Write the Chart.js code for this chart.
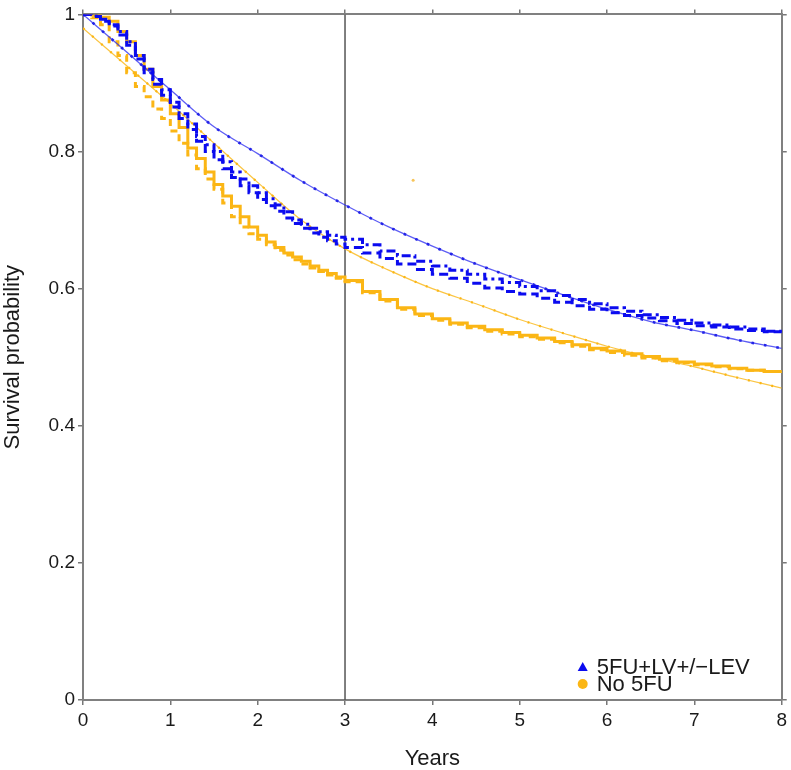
<!DOCTYPE html>
<html>
<head>
<meta charset="utf-8">
<title>Survival probability</title>
<script src="https://cdn.jsdelivr.net/npm/chart.js@4.4.1/dist/chart.umd.min.js"></script>
<style>
  html, body { margin: 0; padding: 0; background: #fff; }
  #wrap { width: 791px; height: 770px; }
</style>
</head>
<body>
<div id="wrap"><canvas id="survChart" width="791" height="770"></canvas></div>
<script>
// Kaplan-Meier style curves (years vs survival probability)
var kmYears = [0, 0.1, 0.2, 0.3, 0.4, 0.5, 0.6, 0.7, 0.8, 0.9, 1.0, 1.1, 1.2, 1.3, 1.4, 1.5,
  1.6, 1.7, 1.8, 1.9, 2.0, 2.1, 2.2, 2.3, 2.4, 2.5, 2.6, 2.7, 2.8, 2.9, 3.0,
  3.2, 3.4, 3.6, 3.8, 4.0, 4.2, 4.4, 4.6, 4.8, 5.0, 5.2, 5.4, 5.6, 5.8, 6.0,
  6.2, 6.4, 6.6, 6.8, 7.0, 7.2, 7.4, 7.6, 7.8, 8.0];

var blueDashDot = [1.0, 0.998, 0.993, 0.985, 0.975, 0.96, 0.94, 0.92, 0.905, 0.89, 0.872,
  0.855, 0.84, 0.822, 0.81, 0.80, 0.785, 0.77, 0.76, 0.75, 0.74, 0.731, 0.722, 0.712, 0.70,
  0.694, 0.688, 0.683, 0.678, 0.675, 0.672,
  0.664, 0.655, 0.648, 0.64, 0.633, 0.627, 0.621, 0.614, 0.609, 0.603, 0.597, 0.59, 0.584,
  0.578, 0.572, 0.567, 0.562, 0.558, 0.554, 0.55, 0.547, 0.544, 0.541, 0.538, 0.536];
var blueDashed = [1.0, 0.997, 0.99, 0.983, 0.97, 0.955, 0.935, 0.915, 0.898, 0.882, 0.865,
  0.848, 0.832, 0.815, 0.80, 0.788, 0.775, 0.762, 0.75, 0.74, 0.73, 0.721, 0.713, 0.703,
  0.695, 0.688, 0.681, 0.675, 0.67, 0.665, 0.66,
  0.652, 0.644, 0.636, 0.628, 0.621, 0.615, 0.608, 0.601, 0.596, 0.592, 0.586, 0.58, 0.575,
  0.57, 0.565, 0.561, 0.557, 0.553, 0.549, 0.546, 0.544, 0.541, 0.539, 0.537, 0.535];
var orangeSolid = [1.0, 0.999, 0.996, 0.99, 0.975, 0.96, 0.94, 0.92, 0.895, 0.875, 0.855,
  0.835, 0.805, 0.79, 0.77, 0.752, 0.735, 0.72, 0.705, 0.69, 0.678, 0.668, 0.66, 0.652,
  0.646, 0.64, 0.633, 0.627, 0.622, 0.617, 0.612,
  0.596, 0.584, 0.572, 0.563, 0.556, 0.55, 0.545, 0.54, 0.536, 0.532, 0.528, 0.523, 0.518,
  0.513, 0.509, 0.505, 0.501, 0.497, 0.493, 0.49, 0.487, 0.484, 0.481, 0.479, 0.477];
var orangeDashed = [1.0, 0.995, 0.985, 0.96, 0.94, 0.915, 0.895, 0.88, 0.862, 0.848, 0.83,
  0.812, 0.795, 0.775, 0.76, 0.745, 0.725, 0.705, 0.69, 0.68, 0.672, 0.664, 0.656, 0.649,
  0.642, 0.636, 0.63, 0.625, 0.62, 0.615, 0.61,
  0.594, 0.582, 0.57, 0.561, 0.554, 0.548, 0.543, 0.538, 0.534, 0.53, 0.526, 0.521, 0.516,
  0.511, 0.507, 0.503, 0.499, 0.495, 0.492, 0.489, 0.486, 0.483, 0.481, 0.479, 0.477];

// smooth fitted curves (thin lines with dots)
var fitYears = [0, 0.5, 1, 1.5, 2, 2.5, 3, 3.5, 4, 4.5, 5, 5.5, 6, 6.5, 7, 7.5, 8];
var blueFit = [1.0, 0.945, 0.89, 0.836, 0.797, 0.757, 0.722, 0.69, 0.662, 0.636, 0.613,
  0.591, 0.57, 0.552, 0.539, 0.525, 0.513];
var orangeFit = [0.98, 0.925, 0.87, 0.812, 0.755, 0.70, 0.658, 0.627, 0.6, 0.578, 0.555,
  0.535, 0.516, 0.5, 0.486, 0.47, 0.455];

// stray orange mark above the curves
var strayYears = [3.78];
var strayValues = [0.758];

// vertical marker line
var markerYears = [3];

var xTickLabels = ['0', '1', '2', '3', '4', '5', '6', '7', '8'];
var yTickLabels = ['0', '0.2', '0.4', '0.6', '0.8', '1'];
var legendLabels = ['5FU+LV+/\u2212LEV', 'No 5FU'];

var BLUE = '#0b0bef';
var ORANGE = '#fbb615';
var FONT = '"Liberation Sans", Arial, Helvetica, sans-serif';

function pts(xs, ys) {
  return xs.map(function (x, i) { return { x: x, y: ys[i] }; });
}

// legend drawn inside the plot, bottom-right corner
var cornerLegend = {
  id: 'cornerLegend',
  afterDraw: function (chart) {
    var ctx = chart.ctx, a = chart.chartArea;
    var mx = a.right - 199, tx = a.right - 185;
    ctx.save();
    ctx.font = '22px ' + FONT;
    ctx.textBaseline = 'middle';
    legendLabels.forEach(function (label, i) {
      var y = a.bottom - 33 + i * 17;
      if (i === 0) {
        ctx.fillStyle = BLUE;
        ctx.beginPath();
        ctx.moveTo(mx, y - 5);
        ctx.lineTo(mx + 5, y + 4);
        ctx.lineTo(mx - 5, y + 4);
        ctx.closePath();
        ctx.fill();
      } else {
        ctx.fillStyle = ORANGE;
        ctx.beginPath();
        ctx.arc(mx, y, 5, 0, Math.PI * 2);
        ctx.fill();
      }
      ctx.fillStyle = '#1a1a1a';
      ctx.fillText(label, tx, y + 1);
    });
    ctx.restore();
  }
};

var frameGrid = { display: true, drawOnChartArea: false, drawTicks: true, tickLength: 5, color: '#777', lineWidth: 1.5 };
var frameBorder = { display: true, color: '#808080', width: 2 };

new Chart(document.getElementById('survChart').getContext('2d'), {
  type: 'line',
  data: {
    datasets: [
      { data: pts(kmYears, blueDashDot), borderColor: BLUE, borderWidth: 3, borderDash: [9, 4, 3, 4], stepped: true, pointRadius: 0 },
      { data: pts(kmYears, blueDashed), borderColor: BLUE, borderWidth: 3, borderDash: [9, 5], stepped: true, pointRadius: 0 },
      { data: pts(fitYears, blueFit), borderColor: '#2424e8', borderWidth: 2.6, borderDash: [2.6, 10], cubicInterpolationMode: 'monotone', pointRadius: 0 },
      { data: pts(fitYears, blueFit), borderColor: 'rgba(40,40,240,0.75)', borderWidth: 1.3, cubicInterpolationMode: 'monotone', pointRadius: 0 },
      { data: pts(kmYears, orangeSolid), borderColor: ORANGE, borderWidth: 3, stepped: true, pointRadius: 0 },
      { data: pts(kmYears, orangeDashed), borderColor: ORANGE, borderWidth: 3, borderDash: [7, 5], stepped: true, pointRadius: 0 },
      { data: pts(fitYears, orangeFit), borderColor: ORANGE, borderWidth: 2.2, borderDash: [2, 10], cubicInterpolationMode: 'monotone', pointRadius: 0 },
      { data: pts(fitYears, orangeFit), borderColor: 'rgba(250,182,20,0.8)', borderWidth: 1.2, cubicInterpolationMode: 'monotone', pointRadius: 0 },
      { data: pts(strayYears, strayValues), showLine: false, pointRadius: 1.5, pointBackgroundColor: '#f7c55a', pointBorderWidth: 0 },
      { data: [{ x: markerYears[0], y: 0 }, { x: markerYears[0], y: 1 }], borderColor: '#555', borderWidth: 1.5, pointRadius: 0 }
    ]
  },
  options: {
    responsive: false,
    animation: false,
    devicePixelRatio: 1,
    layout: { padding: { top: 14, right: 9, left: 0, bottom: 0 } },
    plugins: { legend: { display: false }, tooltip: { enabled: false } },
    scales: {
      x: {
        type: 'linear', position: 'bottom', min: 0, max: 8,
        ticks: { stepSize: 1, color: '#1a1a1a', padding: 4, font: { size: 19, family: FONT },
          callback: function (v) { return xTickLabels[Math.round(v)]; } },
        grid: frameGrid, border: frameBorder,
        title: { display: true, text: 'Years', color: '#1a1a1a', font: { size: 22, family: FONT, lineHeight: 1 }, padding: 0 },
        afterFit: function (s) { s.height = 70; }
      },
      y: {
        type: 'linear', position: 'left', min: 0, max: 1,
        ticks: { stepSize: 0.2, color: '#1a1a1a', padding: 3, font: { size: 19, family: FONT },
          callback: function (v) { return yTickLabels[Math.round(v * 5)]; } },
        grid: frameGrid, border: frameBorder,
        title: { display: true, text: 'Survival probability', color: '#1a1a1a', font: { size: 22, family: FONT }, padding: 0 },
        afterFit: function (s) { s.width = 83; }
      },
      x2: {
        type: 'linear', position: 'top', min: 0, max: 8,
        ticks: { stepSize: 1, display: false },
        grid: frameGrid, border: frameBorder,
        afterFit: function (s) { s.height = 0; }
      },
      y2: {
        type: 'linear', position: 'right', min: 0, max: 1,
        ticks: { stepSize: 0.2, display: false },
        grid: frameGrid, border: frameBorder,
        afterFit: function (s) { s.width = 0; }
      }
    }
  },
  plugins: [cornerLegend]
});
</script>
</body>
</html>
